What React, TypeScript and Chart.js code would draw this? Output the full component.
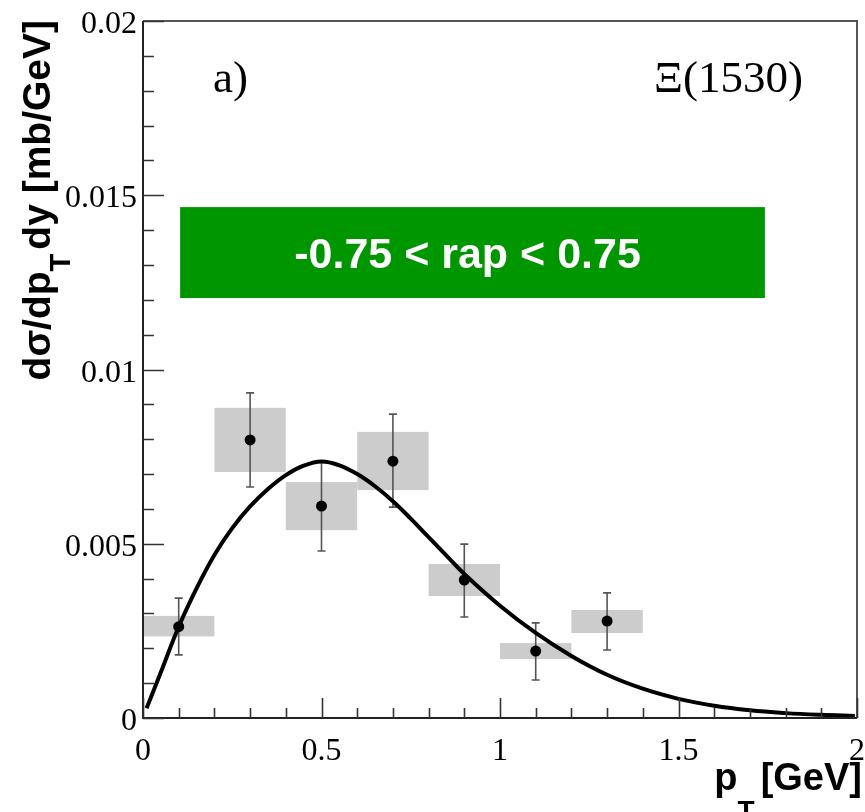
import React, { useEffect, useRef } from 'react';
import { Chart, registerables } from 'chart.js';

Chart.register(...registerables);

// ---- data ----
const xValues = [0.1, 0.3, 0.5, 0.7, 0.9, 1.1, 1.3];
const yValues = [0.00262, 0.00798, 0.00608, 0.00737, 0.00396, 0.00192, 0.00278];
const statLow = [0.00181, 0.00663, 0.00479, 0.00605, 0.0029, 0.00109, 0.00195];
const statHigh = [0.00344, 0.00933, 0.00735, 0.00872, 0.00499, 0.00273, 0.00359];
const sysLow = [0.00234, 0.00706, 0.00539, 0.00654, 0.0035, 0.00169, 0.00244];
const sysHigh = [0.00293, 0.0089, 0.00677, 0.00821, 0.00442, 0.00215, 0.0031];
const binLow = [0, 0.2, 0.4, 0.6, 0.8, 1.0, 1.2];
const binHigh = [0.2, 0.4, 0.6, 0.8, 1.0, 1.2, 1.4];

const curveX = [0.01, 0.05, 0.1, 0.15, 0.2, 0.25, 0.3, 0.35, 0.4, 0.45, 0.5, 0.55, 0.6, 0.65, 0.7, 0.75, 0.8, 0.85, 0.9, 1.0, 1.1, 1.2, 1.3, 1.4, 1.5, 1.6, 1.7, 1.8, 1.9, 1.994];
const curveY = [0.00028, 0.00131, 0.00262, 0.00372, 0.00468, 0.00545, 0.00607, 0.00657, 0.00697, 0.00724, 0.00736, 0.00725, 0.007, 0.00665, 0.00622, 0.00572, 0.00519, 0.00466, 0.00413, 0.00322, 0.00244, 0.00178, 0.00124, 0.00084, 0.00055, 0.00035, 0.00022, 0.00014, 0.00009, 0.00006];

const xTickValues = [0, 0.5, 1, 1.5, 2];
const xTickLabels = ['0', '0.5', '1', '1.5', '2'];
const yTickValues = [0, 0.005, 0.01, 0.015, 0.02];
const yTickLabels = ['0', '0.005', '0.01', '0.015', '0.02'];
const xMinorStep = 0.1;
const yMinorStep = 0.001;

const panelLabel = 'a)';
const particleLabel = 'Ξ(1530)';
const rapidityLabel = '-0.75 < rap < 0.75';

const SERIF = '"Liberation Serif", "DejaVu Serif", serif';
const SANS = '"Liberation Sans", Arial, sans-serif';

const decorPlugin = {
  id: 'rootDecor',
  beforeDatasetsDraw(chart: any) {
    const { ctx, scales } = chart;
    const xs = scales.x;
    const ys = scales.y;
    ctx.save();
    // systematic boxes
    ctx.fillStyle = '#cccccc';
    for (let i = 0; i < xValues.length; i++) {
      const x0 = xs.getPixelForValue(binLow[i]);
      const x1 = xs.getPixelForValue(binHigh[i]);
      const y0 = ys.getPixelForValue(sysHigh[i]);
      const y1 = ys.getPixelForValue(sysLow[i]);
      ctx.fillRect(x0, y0, x1 - x0, y1 - y0);
    }
    // stat error bars
    ctx.strokeStyle = '#555555';
    ctx.lineWidth = 1.6;
    for (let i = 0; i < xValues.length; i++) {
      const x = xs.getPixelForValue(xValues[i]);
      const yt = ys.getPixelForValue(statHigh[i]);
      const yb = ys.getPixelForValue(statLow[i]);
      ctx.beginPath();
      ctx.moveTo(x, yt);
      ctx.lineTo(x, yb);
      ctx.moveTo(x - 4, yt);
      ctx.lineTo(x + 4, yt);
      ctx.moveTo(x - 4, yb);
      ctx.lineTo(x + 4, yb);
      ctx.stroke();
    }
    ctx.restore();
  },
  afterDraw(chart: any) {
    const { ctx, scales, chartArea } = chart;
    const xs = scales.x;
    const ys = scales.y;
    const { left, right, top, bottom } = chartArea;
    ctx.save();

    // frame
    ctx.lineWidth = 2;
    ctx.strokeStyle = '#555555';
    ctx.beginPath();
    ctx.moveTo(left, top);
    ctx.lineTo(right, top);
    ctx.lineTo(right, bottom);
    ctx.stroke();
    ctx.strokeStyle = '#222222';
    ctx.beginPath();
    ctx.moveTo(left, top);
    ctx.lineTo(left, bottom);
    ctx.lineTo(right, bottom);
    ctx.stroke();

    // ticks
    ctx.strokeStyle = '#333333';
    ctx.lineWidth = 1.6;
    ctx.beginPath();
    for (let i = 0; i <= 20; i++) {
      const v = i * yMinorStep;
      const y = Math.round(ys.getPixelForValue(v)) + 0.5;
      const len = i % 5 === 0 ? 21 : 11;
      ctx.moveTo(left, y);
      ctx.lineTo(left + len, y);
    }
    for (let i = 0; i <= 20; i++) {
      const v = i * xMinorStep;
      const x = Math.round(xs.getPixelForValue(v)) + 0.5;
      const len = i % 5 === 0 ? 20 : 10;
      ctx.moveTo(x, bottom);
      ctx.lineTo(x, bottom - len);
    }
    ctx.stroke();

    // tick labels
    ctx.fillStyle = '#000000';
    ctx.font = `32px ${SERIF}`;
    ctx.textBaseline = 'alphabetic';
    ctx.textAlign = 'right';
    yTickValues.forEach((v, i) => {
      const y = ys.getPixelForValue(v);
      ctx.fillText(yTickLabels[i], left - 6, y + 12);
    });
    ctx.textAlign = 'center';
    xTickValues.forEach((v, i) => {
      const x = xs.getPixelForValue(v);
      ctx.fillText(xTickLabels[i], x, bottom + 42);
    });

    // x title: p_T[GeV] right aligned at right edge
    {
      const mainFont = `bold 38px ${SANS}`;
      const subFont = `bold 28px ${SANS}`;
      ctx.font = mainFont;
      const wp = ctx.measureText('p').width;
      const wr = ctx.measureText('[GeV]').width;
      ctx.font = subFont;
      const wt = ctx.measureText('T').width;
      const gap = 6;
      const total = wp + wt + wr + gap;
      const endX = right + 5;
      const base = 790;
      let x = endX - total;
      ctx.textAlign = 'left';
      ctx.font = mainFont;
      ctx.fillText('p', x, base);
      x += wp;
      ctx.font = subFont;
      ctx.fillText('T', x, base + 30);
      x += wt + gap;
      ctx.font = mainFont;
      ctx.fillText('[GeV]', x, base);
    }

    // y title rotated
    {
      const mainFont = `bold 39px ${SANS}`;
      const subFont = `bold 29px ${SANS}`;
      const partA = 'dσ/dp';
      const partB = 'dy [mb/GeV]';
      ctx.font = mainFont;
      const wa = ctx.measureText(partA).width;
      const wb = ctx.measureText(partB).width;
      ctx.font = subFont;
      const wt = ctx.measureText('T').width;
      const gap = 4;
      const total = wa + wt + wb + gap;
      ctx.save();
      ctx.translate(50, top - 1);
      ctx.rotate(-Math.PI / 2);
      ctx.textAlign = 'left';
      let x = -total;
      ctx.font = mainFont;
      ctx.fillText(partA, x, 0);
      x += wa;
      ctx.font = subFont;
      ctx.fillText('T', x, 20);
      x += wt + gap;
      ctx.font = mainFont;
      ctx.fillText(partB, x, 0);
      ctx.restore();
    }

    // panel label & particle label
    ctx.font = `45px ${SERIF}`;
    ctx.textAlign = 'left';
    ctx.fillText(panelLabel, 213, 92);
    ctx.textAlign = 'right';
    ctx.fillText(particleLabel, 803, 92);

    // green rapidity box
    {
      const bx0 = xs.getPixelForValue(0.104);
      const bx1 = xs.getPixelForValue(1.742);
      const by0 = ys.getPixelForValue(0.01466);
      const by1 = ys.getPixelForValue(0.01205);
      ctx.fillStyle = '#009600';
      ctx.fillRect(bx0, by0, bx1 - bx0, by1 - by0);
      ctx.fillStyle = '#ffffff';
      ctx.font = `bold 43px ${SANS}`;
      ctx.textAlign = 'center';
      ctx.fillText(rapidityLabel, (bx0 + bx1) / 2 - 5, 268);
    }

    ctx.restore();
  },
};

export default function App() {
  const canvasRef = useRef<HTMLCanvasElement | null>(null);

  useEffect(() => {
    const canvas = canvasRef.current;
    if (!canvas) return;
    const chart = new Chart(canvas, {
      type: 'scatter',
      data: {
        datasets: [
          {
            type: 'scatter',
            label: 'data',
            data: xValues.map((x, i) => ({ x, y: yValues[i] })),
            pointRadius: 5.5,
            pointBackgroundColor: '#000000',
            pointBorderWidth: 0,
            order: 0,
          } as any,
          {
            type: 'line',
            label: 'fit',
            data: curveX.map((x, i) => ({ x, y: curveY[i] })),
            borderColor: '#000000',
            borderWidth: 4,
            pointRadius: 0,
            fill: false,
            tension: 0.4,
            order: 1,
          } as any,
        ],
      },
      options: {
        animation: false,
        responsive: false,
        devicePixelRatio: 1,
        layout: { padding: { top: 21, right: 8, left: 0, bottom: 0 } },
        plugins: {
          legend: { display: false },
          tooltip: { enabled: false },
        },
        scales: {
          x: {
            type: 'linear',
            min: 0,
            max: 2,
            ticks: { display: false },
            grid: { display: false, drawTicks: false },
            border: { display: false },
            afterFit: (s: any) => {
              s.height = 94;
            },
          },
          y: {
            type: 'linear',
            min: 0,
            max: 0.02,
            ticks: { display: false },
            grid: { display: false, drawTicks: false },
            border: { display: false },
            afterFit: (s: any) => {
              s.width = 143;
            },
          },
        },
      },
      plugins: [decorPlugin],
    });
    return () => chart.destroy();
  }, []);

  return (
    <div style={{ position: 'absolute', left: 0, top: 0, width: 865, height: 812, background: '#ffffff' }}>
      <canvas ref={canvasRef} width={865} height={812} style={{ display: 'block' }} />
    </div>
  );
}
